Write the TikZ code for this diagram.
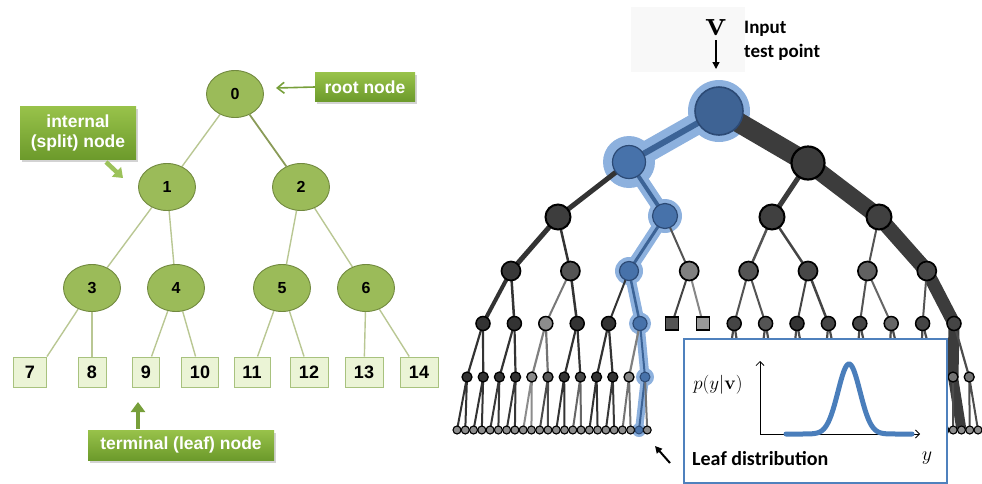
\documentclass[tikz,border=0pt]{standalone}
\usepackage{fix-cm}
\usepackage[no-math]{fontspec}
\setmainfont{Liberation Sans}
\newfontfamily\calib{Carlito}
\usetikzlibrary{arrows.meta,shapes.geometric,shadows}
\pgfdeclarelayer{halo}
\pgfdeclarelayer{edges}
\pgfsetlayers{halo,edges,main}
\definecolor{gfill}{HTML}{9BBB59}
\definecolor{gdraw}{HTML}{71893F}
\definecolor{gline}{HTML}{B9C793}
\definecolor{gline2}{HTML}{8A9B58}
\definecolor{lfill}{HTML}{EBF4D6}
\definecolor{ldraw}{HTML}{A8C27E}
\definecolor{ctop}{HTML}{98C24A}
\definecolor{cbot}{HTML}{6C9A2B}
\definecolor{carrow}{HTML}{779F3A}
\definecolor{carrowl}{HTML}{9CC25A}
\definecolor{bnode}{HTML}{3E6394}
\definecolor{bnode2}{HTML}{4772AA}
\definecolor{bdraw}{HTML}{2C4A75}
\definecolor{bhalo}{HTML}{8DB1DE}
\definecolor{bline}{HTML}{3C6396}
\definecolor{band}{HTML}{3C3C3C}
\definecolor{insetb}{HTML}{4F81BD}
\definecolor{curvec}{HTML}{4A7EBB}
\definecolor{vbox}{HTML}{F8F8F8}
\tikzset{
  gnode/.style={ellipse, fill=gfill, draw=gdraw, line width=0.9pt, minimum width=57pt, minimum height=47pt, inner sep=0pt, font=\fontsize{16}{16}\selectfont\bfseries},
  gleaf/.style={rectangle, fill=lfill, draw=ldraw, line width=1pt, minimum height=30pt, inner sep=0pt, font=\fontsize{18}{18}\selectfont\bfseries},
  gedge/.style={draw=gline, line width=1.4pt},
  callout/.style={rectangle, top color=ctop, bottom color=cbot, text=white, font=\fontsize{17.5}{20}\selectfont\bfseries, align=center, inner sep=0pt, drop shadow={opacity=0.35, shadow xshift=2pt, shadow yshift=-2.5pt}},
  tn/.style={circle, draw=black, inner sep=0pt},
  bn/.style={circle, inner sep=0pt, fill=bnode2, draw=bdraw, line width=1.2pt},
  sqn/.style={rectangle, draw=black, line width=1.5pt, minimum size=13pt, inner sep=0pt},
}
\begin{document}
\begin{tikzpicture}[x=1pt,y=-1pt]
\useasboundingbox (0,0) rectangle (982,483);
% ================= left tree =================
\node[gnode] (n0) at (235,94) {0};
\node[gnode] (n1) at (167,187) {1};
\node[gnode] (n2) at (301,187) {2};
\node[gnode] (n3) at (92,288) {3};
\node[gnode] (n4) at (176,288) {4};
\node[gnode] (n5) at (282,288) {5};
\node[gnode] (n6) at (366,288) {6};
\node[gleaf, minimum width=33pt] (n7) at (30,372) {7};
\node[gleaf, minimum width=28pt] (n8) at (92,372) {8};
\node[gleaf, minimum width=27pt] (n9) at (146,372) {9};
\node[gleaf, minimum width=37pt] (n10) at (200,372) {10};
\node[gleaf, minimum width=36pt] (n11) at (252,372) {11};
\node[gleaf, minimum width=38pt] (n12) at (309,372) {12};
\node[gleaf, minimum width=38pt] (n13) at (364,372) {13};
\node[gleaf, minimum width=38pt] (n14) at (419,372) {14};
\begin{pgfonlayer}{edges}
\draw[gedge] (n0) -- (n1);
\draw[gedge, draw=gline2, line width=1.8pt] (n0) -- (n2);
\draw[gedge] (n1) -- (n3);
\draw[gedge] (n1) -- (n4);
\draw[gedge] (n2) -- (n5);
\draw[gedge] (n2) -- (n6);
\draw[gedge] (n3) -- (n7.north east);
\draw[gedge] (n3) -- (n8);
\draw[gedge] (n4) -- (n9);
\draw[gedge] (n4) -- (n10);
\draw[gedge] (n5) -- (n11);
\draw[gedge] (n5) -- (n12);
\draw[gedge] (n6) -- (n13);
\draw[gedge] (n6) -- (n14);
\end{pgfonlayer}
% callouts
\node[callout, minimum width=100pt, minimum height=29pt] (cr) at (365,87) {root node};
\coordinate (crt) at (276,88);
\draw[carrow, line width=1.6pt, -{Straight Barb[length=7pt,width=11pt]}] (cr.west) -- (crt);
\node[callout, minimum width=116pt, minimum height=53pt] (ci) at (78,133) {internal\\(split) node};
\coordinate (ci1) at (106,162);
\coordinate (ci2) at (123,178);
\draw[carrowl, line width=4.5pt, -{Triangle[length=9pt,width=13pt]}] (ci1) -- (ci2);
\node[callout, minimum width=186pt, minimum height=30pt] (ct) at (181,445) {terminal (leaf) node};
\coordinate (ct1) at (138,429);
\coordinate (ct2) at (138,402);
\draw[carrow, line width=4.5pt, -{Triangle[length=10pt,width=14pt]}] (ct1) -- (ct2);
% ================= right tree =================
\fill[vbox] (631,7) rectangle (745,72);
\node[font=\fontsize{36}{36}\selectfont, inner sep=0pt] (vlab) at (716,27) {$\mathbf{v}$};
\coordinate (vtip) at (716,69);
\draw[line width=1.4pt, -{Triangle[length=7pt,width=7pt]}, shorten <=5pt] (vlab.south -| vtip) -- (vtip);
\node[font=\calib\bfseries\fontsize{19}{24}\selectfont, anchor=base west, inner sep=0pt] (inp1) at (744,33) {Input};
\node[font=\calib\bfseries\fontsize{19}{24}\selectfont, anchor=base west, inner sep=0pt] (inp2) at (744,57) {test point};
% level 0-2
\node[bn, fill=bnode, line width=1.6pt, minimum size=48pt] (R) at (719,111) {};
\node[bn, minimum size=33pt] (A0) at (629,162) {};
\node[tn, fill=band, line width=2.2pt, minimum size=33pt] (A1) at (808,163) {};
\node[tn, fill=black!76, line width=2pt, minimum size=25pt] (B0) at (558,217) {};
\node[bn, minimum size=25pt] (B1) at (665,216) {};
\node[tn, fill=black!75, line width=2pt, minimum size=25pt] (B2) at (772,217) {};
\node[tn, fill=black!75, line width=2pt, minimum size=25pt] (B3) at (879,217) {};
% level 3
\foreach \m/\p in {0/78,1/67,3/50,4/67,5/72,6/62,7/72}
  \node[tn, fill=black!\p, line width=1.7pt, minimum size=19pt] (C\m) at ({511+59.4*\m},271) {};
\node[bn, minimum size=19pt] (C2) at (629,271) {};
% level 4
\foreach \i/\p in {0/80,1/80,2/45,3/80,4/80,8/73,9/67,10/80,11/73,12/73,13/60,14/73,15/73}
  \node[tn, fill=black!\p, line width=1.5pt, minimum size=14pt] (D\i) at ({483+31.4*\i},323.5) {};
\node[bn, minimum size=14pt] (D5) at (640,323.5) {};
\node[sqn, fill=black!67] (D6) at (672,323.5) {};
\node[sqn, fill=black!40] (D7) at (703,323.5) {};
% level 5
\foreach \j/\p in {0/80,1/80,2/80,3/80,4/45,5/65,6/80,7/72,8/80,9/80,10/48,16/72,17/72,18/72,19/72,20/72,21/72,22/72,23/72,24/72,25/72,26/72,27/72,28/72,29/72,30/55,31/55}
  \node[tn, fill=black!\p, line width=1.3pt, minimum size=10pt] (E\j) at ({467+16.2*\j},377) {};
\node[bn, line width=1pt, minimum size=10pt] (E11) at (645,377) {};
% level 6 (leaves)
\foreach \k in {0,...,21,23,32,33,...,63}
  \node[tn, fill=black!45, line width=1.1pt, minimum size=8pt] (F\k) at ({457+8.27*\k},430) {};
\node[bn, line width=0.9pt, minimum size=8pt] (F22) at (639,430) {};
% ---- halo of the blue path
\begin{pgfonlayer}{halo}
\begin{scope}[bhalo, line cap=round]
\fill (R.center) circle[radius=31pt];
\fill (A0.center) circle[radius=26pt];
\fill (B1.center) circle[radius=17pt];
\fill (C2.center) circle[radius=14pt];
\fill (D5.center) circle[radius=11pt];
\fill (E11.center) circle[radius=9pt];
\fill (F22.center) circle[radius=7pt];
\draw[line width=22pt] (R.center) -- (A0.center);
\draw[line width=14pt] (A0.center) -- (B1.center);
\draw[line width=12pt] (B1.center) -- (C2.center);
\draw[line width=10pt] (C2.center) -- (D5.center);
\draw[line width=9pt] (D5.center) -- (E11.center);
\draw[line width=8pt] (E11.center) -- (F22.center);
\end{scope}
\end{pgfonlayer}
% ---- edges
\begin{pgfonlayer}{edges}
% blue path
\draw[bline, line width=6pt] (R.center) -- (A0.center);
\draw[bline, line width=4pt] (A0.center) -- (B1.center);
\draw[bline, line width=3pt] (B1.center) -- (C2.center);
\draw[bline, line width=2.5pt] (C2.center) -- (D5.center);
\draw[bline, line width=2pt] (D5.center) -- (E11.center);
\draw[bline, line width=2pt] (E11.center) -- (F22.center);
% thick band
\begin{scope}[band, line cap=round]
\draw[line width=20pt] (R.center) -- (A1.center);
\draw[line width=17pt] (A1.center) -- (B3.center);
\draw[line width=15pt] (B3.center) -- (C7.center);
\draw[line width=13pt] (C7.center) -- (D15.center);
\draw[line width=11pt] (D15.center) -- (E30.center);
\draw[line width=10pt, line cap=butt] (E30.center) -- (F61.center);
\end{scope}
% level 1 -> 2
\draw[black!80, line width=5pt] (A0.center) -- (B0.center);
\draw[band, line width=5pt] (A1.center) -- (B2.center);
% level 2 -> 3
\draw[black!80, line width=5pt] (B0.center) -- (C0.center);
\draw[black!80, line width=2.5pt] (B0.center) -- (C1.center);
\draw[black!67, line width=2pt] (B1.center) -- (C3.center);
\draw[black!67, line width=2.5pt] (B2.center) -- (C4.center);
\draw[black!73, line width=2.5pt] (B2.center) -- (C5.center);
\draw[black!67, line width=2pt] (B3.center) -- (C6.center);
% level 3 -> 4
\foreach \i/\w/\p in {0/4/80,1/2.5/80,2/2/53,3/2.5/80,4/2/80,6/2/73,7/2/47,8/2/67,9/2/67,10/2/73,11/2.5/73,12/2/67,13/2/60,14/2/67}{
  \pgfmathtruncatemacro{\pp}{\i/2}
  \draw[black!\p, line width=\w pt] (C\pp.center) -- (D\i.center);
}
% level 4 -> 5
\foreach \j/\p in {0/80,1/80,2/80,3/80,4/50,5/55,6/80,7/80,8/80,9/80,10/50,16/70,17/70,18/70,19/70,20/70,21/70,22/70,23/70,24/70,25/70,26/70,27/70,28/70,29/70,31/70}{
  \pgfmathtruncatemacro{\pp}{\j/2}
  \draw[black!\p, line width=2.2pt] (D\pp.center) -- (E\j.center);
}
% level 5 -> 6
\foreach \j/\p in {0/80,1/80,2/78,3/78,4/45,5/70,6/80,7/60,8/80,9/78,10/55,16/70,17/70,18/70,19/70,20/70,21/70,22/70,23/70,24/70,25/70,26/70,27/70,28/70,29/70,31/70}{
  \pgfmathtruncatemacro{\ka}{2*\j}
  \pgfmathtruncatemacro{\kb}{2*\j+1}
  \draw[black!\p, line width=2pt] (E\j.center) -- (F\ka.center) (E\j.center) -- (F\kb.center);
}
\draw[black!55, line width=2pt] (E11.center) -- (F23.center);
\draw[black!70, line width=2pt] (E30.center) -- (F60.center);
\end{pgfonlayer}
% ---- inset with the leaf distribution
\node[draw=insetb, line width=2pt, fill=white, minimum width=263pt, minimum height=144pt, inner sep=0pt, anchor=north west] (inset) at (683,338) {};
\coordinate (ax0) at (760,434);
\coordinate (axy) at (760,361);
\coordinate (axx) at (920,434);
\draw[line width=0.8pt, -{Straight Barb[length=4pt,width=8pt]}] (ax0) -- (axy);
\draw[line width=0.8pt, -{Straight Barb[length=4pt,width=8pt]}] (ax0) -- (axx);
\draw[curvec, line width=5pt, line cap=round] plot[domain=786:912, samples=120, smooth] (\x, {434-70*exp(-((\x-849)^2)/242)});
\node[font=\fontsize{19}{19}\selectfont] (pl) at (718,385) {$p(y|\mathbf{v})$};
\node[font=\calib\bfseries\fontsize{20}{24}\selectfont, anchor=base west, inner sep=0pt] (ld) at (692,465) {Leaf distribution};
\node[font=\fontsize{20}{20}\selectfont] (yl) at (927,458) {$y$};
% arrow towards the leaves
\coordinate (lt1) at (670,463);
\coordinate (lt2) at (655,446);
\draw[line width=2pt, -{Triangle[length=7pt,width=7pt]}] (lt1) -- (lt2);
\end{tikzpicture}
\end{document}
